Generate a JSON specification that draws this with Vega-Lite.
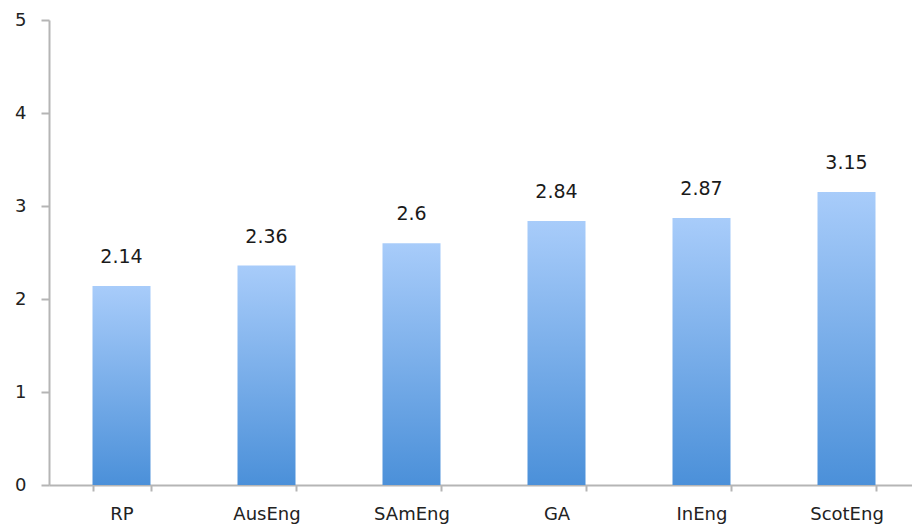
{
  "$schema": "https://vega.github.io/schema/vega-lite/v6.json",
  "width": 863,
  "height": 465,
  "autosize": "none",
  "padding": {"left": 49, "top": 20, "right": 0, "bottom": 44},
  "background": "white",
  "config": {
    "view": {"stroke": null},
    "font": "DejaVu Sans"
  },
  "data": {
    "values": [
      {"variety": "RP", "value": 2.14, "label": "2.14"},
      {"variety": "AusEng", "value": 2.36, "label": "2.36"},
      {"variety": "SAmEng", "value": 2.6, "label": "2.6"},
      {"variety": "GA", "value": 2.84, "label": "2.84"},
      {"variety": "InEng", "value": 2.87, "label": "2.87"},
      {"variety": "ScotEng", "value": 3.15, "label": "3.15"}
    ]
  },
  "encoding": {
    "x": {
      "field": "variety",
      "type": "nominal",
      "sort": null,
      "scale": {"range": [0, 870], "paddingInner": 0.6, "paddingOuter": 0.3},
      "axis": {
        "title": null,
        "labelAngle": 0,
        "labelFontSize": 18,
        "labelColor": "#222222",
        "labelPadding": 14,
        "domainColor": "#b5b5b5",
        "domainWidth": 2,
        "tickColor": "#b5b5b5",
        "tickWidth": 2,
        "tickSize": 6,
        "tickBand": "extent",
        "grid": false
      }
    },
    "y": {
      "field": "value",
      "type": "quantitative",
      "scale": {"domain": [0, 5], "nice": false},
      "axis": {
        "title": null,
        "values": [0, 1, 2, 3, 4, 5],
        "labelFontSize": 18,
        "labelColor": "#222222",
        "labelPadding": 15,
        "domainColor": "#b5b5b5",
        "domainWidth": 2,
        "tickColor": "#b5b5b5",
        "tickWidth": 2,
        "tickSize": 8,
        "grid": false
      }
    }
  },
  "layer": [
    {
      "mark": {
        "type": "bar",
        "color": {
          "gradient": "linear",
          "x1": 0, "y1": 0, "x2": 0, "y2": 1,
          "stops": [
            {"offset": 0, "color": "#a8ccfa"},
            {"offset": 1, "color": "#4b90d9"}
          ]
        }
      }
    },
    {
      "mark": {"type": "text", "baseline": "bottom", "dy": -19, "fontSize": 19, "color": "#1a1a1a"},
      "encoding": {"text": {"field": "label"}}
    }
  ]
}
